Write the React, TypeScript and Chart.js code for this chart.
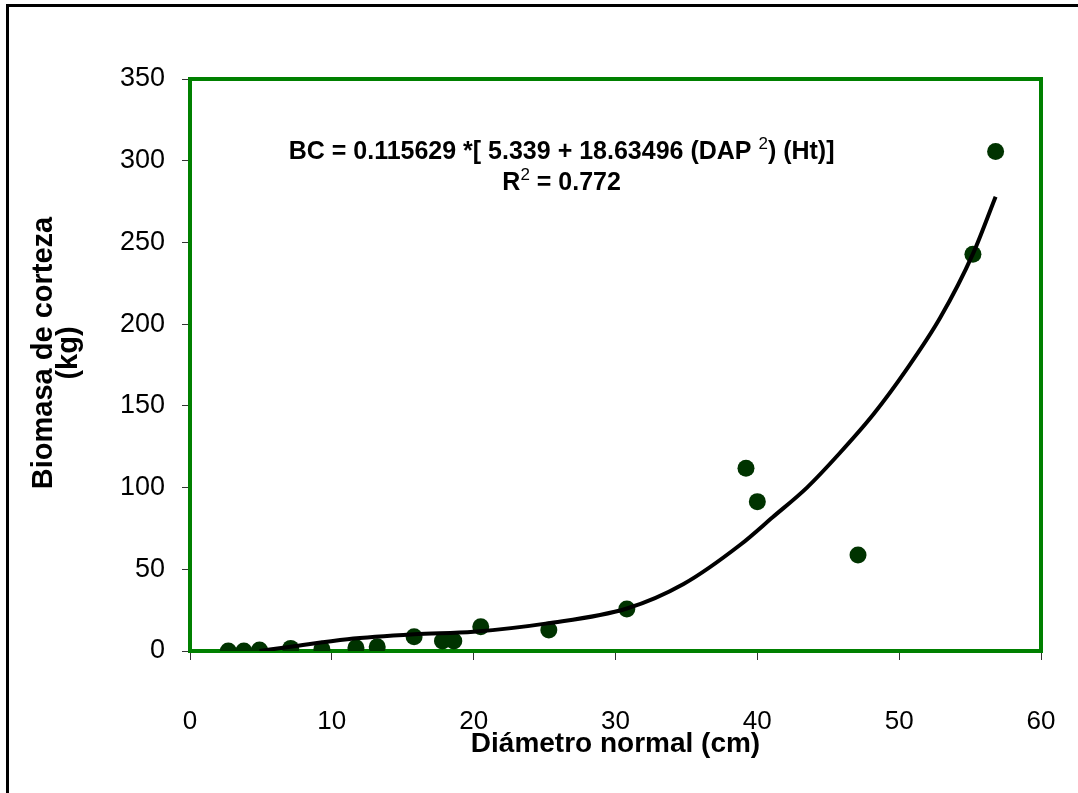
import React, { useEffect, useRef } from "react";
import { Chart, registerables } from "chart.js";

Chart.register(...registerables);

// Observed data (diameter in cm, bark biomass in kg)
const diameterCm = [2.7, 3.8, 4.9, 7.1, 9.3, 11.7, 13.2, 15.8, 17.8, 18.6, 20.5, 25.3, 30.8, 39.2, 40.0, 47.1, 55.2, 56.8];
const barkBiomassKg = [0, 0, 0.6, 1.6, 1.0, 2.0, 2.6, 8.7, 6.1, 6.1, 14.9, 12.9, 25.7, 111.8, 91.4, 58.8, 242.8, 305.6];

// Fitted model curve
const fitDiameterCm = [4.9, 7.1, 11.1, 15.8, 20.0, 25.2, 30.8, 34.8, 38.8, 41.1, 43.5, 45.8, 48.2, 50.5, 52.9, 55.2, 56.8];
const fitBiomassKg = [0, 2.6, 7.2, 10.2, 11.8, 16.9, 26, 41, 65, 82, 100, 121, 145, 172, 204, 243, 278];

// Axis ticks
const xTickValues = [0, 10, 20, 30, 40, 50, 60];
const yTickValues = [0, 50, 100, 150, 200, 250, 300, 350];

const xTitle = "Diámetro normal (cm)";
const yTitle = ["Biomasa de corteza", "(kg)"];
const eqLine1 = ["BC = 0.115629 *[ 5.339 + 18.63496 (DAP ", "2", ") (Ht)]"];
const eqLine2 = ["R", "2", " = 0.772"];

const FONT = "'Liberation Sans', Arial, sans-serif";

function drawSupText(ctx: CanvasRenderingContext2D, parts: string[], cx: number, cy: number, size: number) {
  const mainFont = `bold ${size}px ${FONT}`;
  const supFont = `${Math.round(size * 0.68)}px ${FONT}`;
  const widths = parts.map((p, i) => {
    ctx.font = i % 2 === 1 ? supFont : mainFont;
    return ctx.measureText(p).width;
  });
  const total = widths.reduce((a, b) => a + b, 0);
  let x = cx - total / 2;
  ctx.textBaseline = "middle";
  ctx.textAlign = "left";
  ctx.fillStyle = "#000";
  parts.forEach((p, i) => {
    const sup = i % 2 === 1;
    ctx.font = sup ? supFont : mainFont;
    ctx.fillText(p, x, sup ? cy - size * 0.33 : cy);
    x += widths[i];
  });
}

const decorPlugin = {
  id: "decor",
  beforeDatasetsDraw(chart: any) {
    const { ctx, chartArea } = chart;
    ctx.save();
    ctx.strokeStyle = "#008000";
    ctx.lineWidth = 4;
    ctx.strokeRect(chartArea.left, chartArea.top, chartArea.right - chartArea.left, chartArea.bottom - chartArea.top);
    ctx.restore();
  },
  afterDraw(chart: any) {
    const { ctx, chartArea } = chart;
    const xs = chart.scales.x;
    const ys = chart.scales.y;
    ctx.save();
    // outer frame
    ctx.strokeStyle = "#000";
    ctx.lineWidth = 3;
    ctx.beginPath();
    ctx.moveTo(7.5, chart.height);
    ctx.lineTo(7.5, 5.5);
    ctx.lineTo(chart.width, 5.5);
    ctx.stroke();
    // y-axis title (two rotated lines)
    const midY = (chartArea.top + chartArea.bottom) / 2 - 12;
    ctx.fillStyle = "#000";
    ctx.font = `bold 29px ${FONT}`;
    ctx.textAlign = "center";
    ctx.textBaseline = "middle";
    yTitle.forEach((line, i) => {
      ctx.save();
      ctx.translate(44 + i * 25, midY);
      ctx.rotate(-Math.PI / 2);
      ctx.fillText(line, 0, 0);
      ctx.restore();
    });
    // equation annotation
    const cx = xs.getPixelForValue(26.2);
    drawSupText(ctx, eqLine1, cx, ys.getPixelForValue(305), 25);
    drawSupText(ctx, eqLine2, cx, ys.getPixelForValue(286), 25);
    ctx.restore();
  },
};

export default function App() {
  const ref = useRef<HTMLCanvasElement | null>(null);
  useEffect(() => {
    if (!ref.current) return;
    const chart = new Chart(ref.current, {
      type: "scatter",
      data: {
        datasets: [
          {
            label: "Modelo",
            data: fitDiameterCm.map((x, i) => ({ x, y: fitBiomassKg[i] })),
            showLine: true,
            borderColor: "#000",
            borderWidth: 4,
            pointRadius: 0,
            cubicInterpolationMode: "monotone",
            fill: false,
          } as any,
          {
            label: "Observado",
            data: diameterCm.map((x, i) => ({ x, y: barkBiomassKg[i] })),
            backgroundColor: "#003300",
            borderColor: "#003300",
            pointRadius: 8.5,
            pointBorderWidth: 0,
          },
        ],
      },
      options: {
        responsive: false,
        animation: false,
        devicePixelRatio: 1,
        layout: { padding: { top: 79, right: 37, left: 0, bottom: 0 } },
        plugins: { legend: { display: false }, tooltip: { enabled: false } },
        scales: {
          x: {
            type: "linear",
            min: 0,
            max: 60,
            afterBuildTicks: (s: any) => {
              s.ticks = xTickValues.map((v) => ({ value: v }));
            },
            afterFit: (s: any) => {
              s.height = 142;
              s.paddingLeft = 0;
              s.paddingRight = 0;
            },
            grid: { drawOnChartArea: false, drawTicks: true, tickLength: 9, color: "#333", lineWidth: 1 },
            border: { display: false },
            ticks: { color: "#000", font: { family: FONT, size: 26 }, padding: 46, maxRotation: 0 },
            title: {
              display: true,
              text: xTitle,
              color: "#000",
              font: { family: FONT, size: 28, weight: "bold" },
              padding: { top: 0, bottom: 32 },
            },
          },
          y: {
            type: "linear",
            min: 0,
            max: 350,
            afterBuildTicks: (s: any) => {
              s.ticks = yTickValues.map((v) => ({ value: v }));
            },
            afterFit: (s: any) => {
              s.width = 190;
              s.paddingTop = 0;
              s.paddingBottom = 0;
            },
            grid: { drawOnChartArea: false, drawTicks: true, tickLength: 8, color: "#333", lineWidth: 1 },
            border: { display: false },
            ticks: { color: "#000", font: { family: FONT, size: 27 }, padding: 17 },
            title: { display: false },
          },
        },
      },
      plugins: [decorPlugin],
    } as any);
    return () => chart.destroy();
  }, []);
  return (
    <div style={{ position: "absolute", left: 0, top: 0, width: 1078, height: 793, background: "#fff" }}>
      <canvas ref={ref} width={1078} height={793} style={{ display: "block" }} />
    </div>
  );
}
